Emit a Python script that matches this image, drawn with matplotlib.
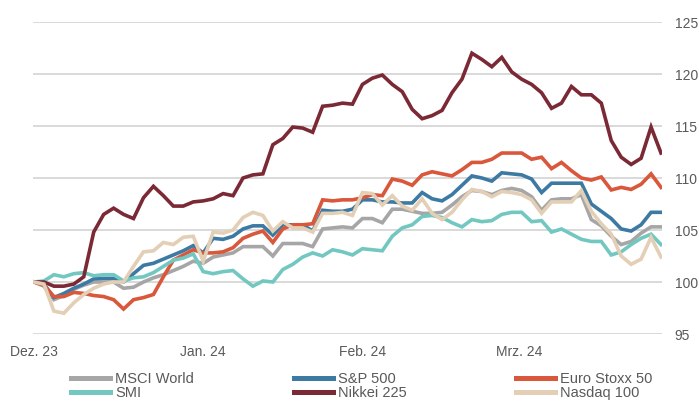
import numpy as np
import matplotlib
matplotlib.use("Agg")
import matplotlib.pyplot as plt
from matplotlib.lines import Line2D

# --- Datos (indexiert, Start = 100) ---
msci_world = [100, 99.6, 98.3, 98.7, 99.3, 99.7, 100.0, 100.0, 100.0, 99.4,
              99.5, 100.0, 100.4, 100.7, 101.1, 101.5, 102.0, 101.8, 102.4, 102.6,
              102.8, 103.4, 103.4, 103.4, 102.5, 103.7, 103.7, 103.7, 103.4, 105.1,
              105.2, 105.3, 105.2, 106.1, 106.1, 105.7, 107.0, 107.0, 106.8, 106.6,
              106.6, 106.7, 107.4, 108.2, 108.8, 108.7, 108.4, 108.8, 109.0, 108.8,
              108.2, 106.9, 107.9, 108.0, 108.0, 108.4, 106.0, 105.4, 104.4, 103.6,
              103.9, 104.7, 105.3, 105.3]

sp500 = [100, 99.8, 98.5, 98.9, 99.4, 99.8, 100.3, 100.35, 100.35, 100.0,
         100.8, 101.6, 101.8, 102.2, 102.6, 103.0, 103.5, 102.8, 104.2, 104.1,
         104.4, 105.1, 105.4, 105.4, 104.5, 105.5, 105.5, 105.5, 104.9, 106.9,
         106.8, 106.8, 107.0, 107.9, 107.9, 107.7, 107.7, 107.6, 107.6, 108.6,
         108.0, 107.8, 108.4, 109.3, 110.2, 110.0, 109.7, 110.5, 110.4, 110.3,
         109.9, 108.6, 109.5, 109.5, 109.5, 109.5, 107.5, 106.8, 106.1, 105.1,
         104.9, 105.5, 106.7, 106.7]

euro_stoxx = [100, 99.7, 98.6, 98.6, 99.0, 98.9, 98.7, 98.6, 98.3, 97.4,
              98.3, 98.5, 98.8, 100.5, 102.1, 102.6, 103.1, 102.8, 102.8, 102.9,
              103.3, 104.2, 104.6, 104.9, 103.8, 105.1, 105.5, 105.5, 105.6, 107.9,
              107.8, 107.9, 107.9, 108.1, 108.4, 108.3, 109.9, 109.7, 109.3, 110.3,
              110.6, 110.4, 110.2, 110.8, 111.5, 111.5, 111.8, 112.4, 112.4, 112.4,
              111.8, 112.0, 110.9, 111.5, 110.7, 110.0, 109.8, 110.1, 108.85, 109.1,
              108.9, 109.4, 110.4, 109.1]

smi = [100, 100.1, 100.7, 100.5, 100.8, 100.9, 100.6, 100.7, 100.7, 100.1,
       100.4, 100.5, 100.9, 101.5, 102.1, 102.3, 102.7, 101.0, 100.8, 101.0,
       101.1, 100.3, 99.6, 100.1, 100.0, 101.2, 101.7, 102.4, 102.8, 102.5,
       103.1, 102.9, 102.6, 103.2, 103.1, 103.0, 104.4, 105.2, 105.5, 106.3,
       106.4, 106.2, 105.7, 105.3, 106.0, 105.8, 105.9, 106.5, 106.7, 106.7,
       105.8, 105.9, 104.8, 105.1, 104.6, 104.1, 103.9, 103.9, 102.6, 102.9,
       103.6, 104.2, 104.6, 103.6]

nikkei = [100, 100.0, 99.6, 99.6, 99.8, 100.5, 104.8, 106.5, 107.1, 106.5,
          106.1, 108.1, 109.2, 108.3, 107.3, 107.3, 107.7, 107.8, 108.0, 108.5,
          108.3, 110.0, 110.3, 110.4, 113.2, 113.8, 114.9, 114.8, 114.4, 116.9,
          117.0, 117.2, 117.1, 119.0, 119.6, 119.9, 119.0, 118.3, 116.6, 115.7,
          116.0, 116.5, 118.2, 119.5, 122.0, 121.4, 120.7, 121.6, 120.2, 119.5,
          119.0, 118.2, 116.7, 117.2, 118.8, 118.0, 118.0, 117.2, 113.6, 112.0,
          111.3, 111.9, 114.9, 112.4]

nasdaq = [100, 99.8, 97.2, 97.0, 98.0, 98.8, 99.4, 99.8, 100.0, 100.0,
          101.5, 102.9, 103.0, 103.8, 103.6, 104.3, 104.4, 102.0, 104.8, 104.7,
          105.0, 106.2, 106.7, 106.4, 104.9, 105.8, 105.2, 105.2, 104.8, 106.6,
          106.6, 106.7, 106.4, 108.6, 108.5, 107.4, 108.3, 107.3, 106.9, 108.0,
          106.6, 106.0, 106.7, 107.9, 108.9, 108.7, 108.2, 108.7, 108.6, 108.4,
          107.9, 106.6, 107.7, 107.7, 107.7, 108.8, 106.8, 105.6, 104.6, 102.5,
          101.7, 102.2, 104.3, 102.4]

x_tick_pos = [0, 17.0, 33, 48.8]
x_tick_labels = ["Dez. 23", "Jan. 24", "Feb. 24", "Mrz. 24"]
y_ticks = [95, 100, 105, 110, 115, 120, 125]

series = [
    ("MSCI World", msci_world, "#a6a6a6"),
    ("S&P 500", sp500, "#3d7aa3"),
    ("Euro Stoxx 50", euro_stoxx, "#d9573b"),
    ("SMI", smi, "#72c8c1"),
    ("Nikkei 225", nikkei, "#7b2934"),
    ("Nasdaq 100", nasdaq, "#e3cfb6"),
]

# --- Figura ---
plt.rcParams['font.family'] = ['Liberation Sans', 'DejaVu Sans']
txt_color = "#595959"

fig = plt.figure(figsize=(6.99, 4.01), dpi=100)
ax = fig.add_axes([33 / 699, 1 - 334 / 401, 629 / 699, 312 / 401])

x = np.arange(len(msci_world))
for name, vals, col in series:
    ax.plot(x, vals, color=col, lw=2.6, solid_joinstyle="miter", label=name)

ax.set_ylim(95, 125)
ax.set_xlim(-0.1, 63.1)
ax.set_yticks(y_ticks)
ax.yaxis.tick_right()
ax.set_xticks(x_tick_pos)
ax.set_xticklabels(x_tick_labels)
ax.tick_params(axis="y", length=0, pad=9, labelsize=10, labelcolor=txt_color)
ax.tick_params(axis="x", length=0, pad=8, labelsize=10, labelcolor=txt_color)
ax.grid(axis="y", color="#d9d9d9", lw=1.4)
ax.set_axisbelow(True)
for s in ax.spines.values():
    s.set_visible(False)

# --- Leyenda: tres columnas colocadas a mano ---
cols = [(71, ["MSCI World", "SMI"]),
        (294, ["S&P 500", "Nikkei 225"]),
        (516, ["Euro Stoxx 50", "Nasdaq 100"])]
colors = {n: c for n, _, c in series}
for x0, names in cols:
    handles = [Line2D([], [], color=colors[n], lw=3.6) for n in names]
    leg = fig.legend(handles, names, loc="upper left",
                     bbox_to_anchor=(x0 / 699, 1 - 372 / 401),
                     frameon=False, fontsize=10.5, handlelength=2.65,
                     handletextpad=0.4, labelspacing=0.0,
                     borderpad=0, borderaxespad=0)
    for t in leg.get_texts():
        t.set_color(txt_color)

plt.savefig("out.png", dpi=100)
